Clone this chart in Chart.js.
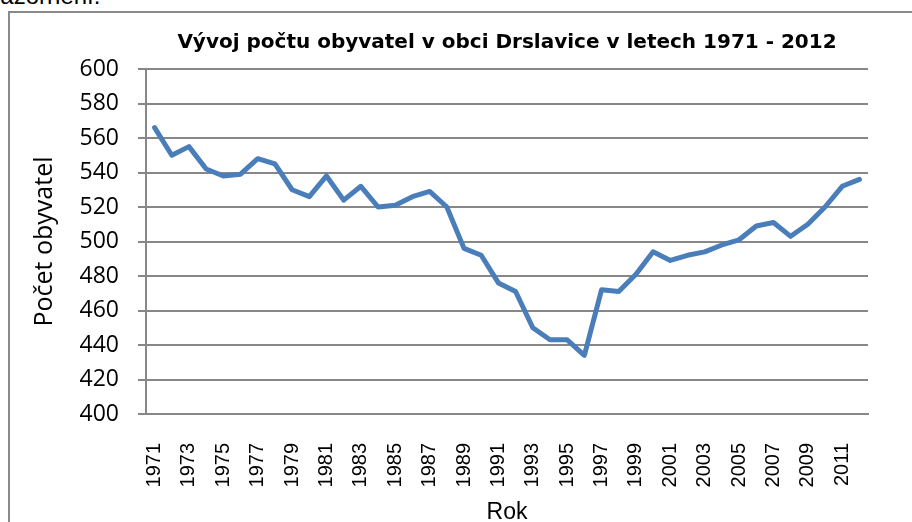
<!DOCTYPE html>
<html>
<head>
<meta charset="utf-8">
<script src="https://cdn.jsdelivr.net/npm/chart.js@4"></script>
<style>
  body { margin: 0; width: 912px; height: 522px; overflow: hidden; background: #fff; position: relative; font-family: 'Liberation Sans', Arial, sans-serif; }
  #above { position: absolute; left: -25px; top: -16px; font-size: 24px; line-height: 24px; color: #000; white-space: nowrap; }
  #frame { position: absolute; left: 8px; top: 11px; width: 920px; height: 540px; border: 2px solid #8a8a8a; }
  #wrap { position: absolute; left: 10px; top: 13px; }
</style>
</head>
<body>
<div id="above">znázornění.</div>
<div id="frame"></div>
<div id="wrap"><canvas id="myChart" width="902" height="530"></canvas></div>
<script>
var years = [1971, 1972, 1973, 1974, 1975, 1976, 1977, 1978, 1979, 1980,
    1981, 1982, 1983, 1984, 1985, 1986, 1987, 1988, 1989, 1990,
    1991, 1992, 1993, 1994, 1995, 1996, 1997, 1998, 1999, 2000,
    2001, 2002, 2003, 2004, 2005, 2006, 2007, 2008, 2009, 2010,
    2011, 2012];
var population = [566, 550, 555, 542, 538, 539, 548, 545, 530, 526,
    538, 524, 532, 520, 521, 526, 529, 520, 496, 492,
    476, 471, 450, 443, 443, 434, 472, 471, 481, 494,
    489, 492, 494, 498, 501, 509, 511, 503, 510, 520,
    532, 536];
var yMin = 400;
var yMax = 600;
var yStep = 20;

var gray = '#878787';
var ctx = document.getElementById('myChart').getContext('2d');
var myChart = new Chart(ctx, {
    type: 'line',
    data: {
        labels: years,
        datasets: [{
            label: 'Počet obyvatel',
            data: population,
            borderColor: '#4a7ebb',
            borderWidth: 5,
            borderJoinStyle: 'round',
            borderCapStyle: 'round',
            pointRadius: 0,
            fill: false,
            tension: 0
        }]
    },
    options: {
        responsive: false,
        animation: false,
        layout: { padding: { left: 0, right: 44, top: 0, bottom: 0 } },
        plugins: {
            legend: { display: false },
            tooltip: { enabled: false },
            title: {
                display: true,
                fullSize: false,
                text: 'Vývoj počtu obyvatel v obci Drslavice v letech 1971 - 2012',
                color: '#000',
                font: { family: 'DejaVu Sans', size: 20, weight: 'bold' },
                padding: { top: 18, bottom: 14 }
            }
        },
        scales: {
            x: {
                offset: true,
                grid: { display: false },
                border: { display: true, color: gray, width: 2 },
                ticks: {
                    autoSkip: false,
                    maxRotation: 90,
                    minRotation: 90,
                    padding: 21,
                    color: '#000',
                    font: { family: 'Liberation Sans', size: 20 },
                    callback: function (v, i) { return i % 2 === 0 ? years[i] : ''; }
                },
                title: {
                    display: true,
                    text: 'Rok',
                    color: '#000',
                    font: { family: 'Liberation Sans', size: 23 },
                    padding: { top: 0, bottom: 17 }
                },
                afterFit: function (s) { s.height = 129; }
            },
            y: {
                min: yMin,
                max: yMax,
                grid: { color: gray, lineWidth: 2, tickLength: 8, drawTicks: true },
                border: { display: true, color: gray, width: 2 },
                ticks: {
                    stepSize: yStep,
                    padding: 19,
                    color: '#000',
                    font: { family: 'Open Sans', size: 23 }
                },
                title: {
                    display: true,
                    text: 'Počet obyvatel',
                    color: '#000',
                    font: { family: 'Open Sans', size: 25 },
                    padding: { top: 20, bottom: 0 }
                },
                afterFit: function (s) { s.width = 136; }
            }
        }
    }
});
</script>
</body>
</html>
